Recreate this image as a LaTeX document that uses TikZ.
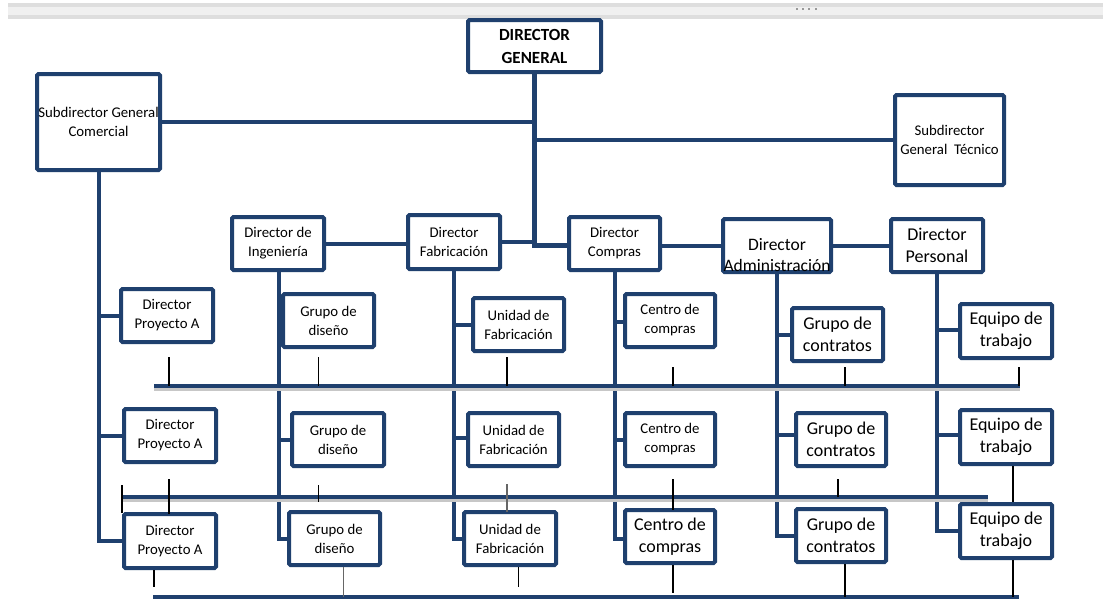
\documentclass[tikz,border=0pt]{standalone}
\usepackage{fontspec}
\setmainfont{Carlito}
\definecolor{navy}{RGB}{31,64,110}
\begin{document}
\begin{tikzpicture}[x=1pt,y=-1pt,
  box/.style={draw=navy, line width=4pt, fill=white, rounded corners=1.5pt, inner sep=0pt, align=center},
  sm/.style={font=\fontsize{14.8}{19}\selectfont},
  lg/.style={font=\fontsize{18}{21.7}\selectfont},
  bx/.style 2 args={minimum width=#1pt, minimum height=#2pt},
  conn/.style={draw=navy, line width=4pt},
  bus/.style={draw=navy, line width=4.5pt},
  busshadow/.style={draw=black!22, line width=3pt},
  tick/.style={draw=black, line width=1.2pt},
  gtick/.style={draw=black!60, line width=1.4pt}]
\useasboundingbox (0,0) rectangle (1103,600);
\fill[white] (0,0) rectangle (1103,600);
% top bar
\fill[black!13] (8,3.3) rectangle (1103,18.7);
\fill[black!6] (8,7.3) rectangle (1103,15);
\foreach \x in {796.7,802.7,809,815.7} \fill[black!40] (\x-1,8.3) rectangle (\x+1,10.3);

% top level
\node[box, bx={133}{52}, font=\bfseries\fontsize{17}{23}\selectfont] (DG) at (534.5,46) {DIRECTOR\\GENERAL};
\node[box, sm, bx={123}{96}] (SGC) at (98.5,122) {Subdirector General\\Comercial};
\node[box, sm, bx={109}{90}] (SGT) at (949.5,140) {Subdirector\\General\ \ Técnico};
% directors
\node[box, sm, bx={92}{53}] (DI) at (278,243.5) {Director de\\Ingeniería};
\node[box, sm, bx={92}{54}] (DF) at (454,242) {Director\\Fabricación};
\node[box, sm, bx={91}{53}] (DC) at (614.5,243.5) {Director\\Compras};
\node[box, bx={108}{53}] (DA) at (777,245.5) {};
\node[box, lg, bx={92}{53}] (DP) at (937,245.5) {Director\\Personal};
% row 1
\node[box, sm, bx={92}{53}] (DPA1) at (167,315.5) {Director\\Proyecto A};
\node[box, sm, bx={91}{53}] (GD1) at (328.5,320.5) {Grupo de\\diseño};
\node[box, sm, bx={91}{53}] (UF1) at (518.5,324.5) {Unidad de\\Fabricación};
\node[box, sm, bx={90}{53}] (CC1) at (670,320.5) {Centro de\\compras};
\node[box, lg, bx={91}{53}] (GC1) at (837.5,334.5) {Grupo de\\contratos};
\node[box, lg, bx={92}{54}] (ET1) at (1006,331) {Equipo de\\trabajo};
% row 2
\node[box, sm, bx={92}{53}] (DPA2) at (170,435.5) {Director\\Proyecto A};
\node[box, sm, bx={92}{53}] (GD2) at (338,439.5) {Grupo de\\diseño};
\node[box, sm, bx={91}{53}] (UF2) at (513.5,439.5) {Unidad de\\Fabricación};
\node[box, sm, bx={90}{53}] (CC2) at (670,439.5) {Centro de\\compras};
\node[box, lg, bx={90}{53}] (GC2) at (841,439.5) {Grupo de\\contratos};
\node[box, lg, bx={92}{54}] (ET2) at (1006,437) {Equipo de\\trabajo};
% row 3
\node[box, sm, bx={92}{54}] (DPA3) at (170,541) {Director\\Proyecto A};
\node[box, sm, bx={91}{53}] (GD3) at (334.5,538.5) {Grupo de\\diseño};
\node[box, sm, bx={92}{53}] (UF3) at (510,538.5) {Unidad de\\Fabricación};
\node[box, lg, bx={90}{53}] (CC3) at (670,536.5) {Centro de\\compras};
\node[box, lg, bx={90}{53}] (GC3) at (841,535.5) {Grupo de\\contratos};
\node[box, lg, bx={92}{54}] (ET3) at (1006,531) {Equipo de\\trabajo};

% top-level connectors
\draw[conn] (SGC.east) -- (SGC.east -| DG.south);
\draw[conn] (SGT.west) -- (SGT.west -| DG.south);
\draw[conn] (DI.east) -- (DI.east -| DF.west);
\draw[conn] (DF.east) -- (DF.east -| DG.south);
\draw[conn, line width=5pt] (DG.south) -- ([yshift=-2pt]DC.west -| DG.south) -- ([yshift=-2pt]DC.west);
\draw[conn] (DA.west) -- (DA.west -| DC.east);
\draw[conn] (DA.east) -- (DP.west);

% vertical lines and branches
\draw[conn] (SGC.south) |- (DPA3.west);
\draw[conn] (DPA1.west) -- (DPA1.west -| SGC.south);
\draw[conn] (DPA2.west) -- (DPA2.west -| SGC.south);
\draw[conn] ([xshift=1pt]DI.south) |- (GD3.west);
\draw[conn] (GD2.west) -- ([xshift=1pt]GD2.west -| DI.south);
\draw[conn] (DF.south) |- (UF3.west);
\draw[conn] (UF1.west) -- (UF1.west -| DF.south);
\draw[conn] ([yshift=2pt]UF2.west) -- ([yshift=2pt]UF2.west -| DF.south);
\draw[conn] (DC.south) |- ([yshift=-2pt]CC3.west);
\draw[conn] ([yshift=-1.5pt]CC1.west) -- ([yshift=-1.5pt]CC1.west -| DC.south);
\draw[conn] (CC2.west) -- (CC2.west -| DC.south);
\draw[conn] (DA.south) |- (GC3.west);
\draw[conn] (GC1.west) -- (GC1.west -| DA.south);
\draw[conn] ([yshift=4.5pt]GC2.west) -- ([yshift=4.5pt]GC2.west -| DA.south);
\draw[conn] (DP.south) |- (ET3.west);
\draw[conn] ([yshift=1pt]ET1.west) -- ([yshift=1pt]ET1.west -| DP.south);
\draw[conn] ([yshift=2pt]ET2.west) -- ([yshift=2pt]ET2.west -| DP.south);

% DA text (sits low in its box)
\node[lg, align=center, inner sep=0pt, font=\fontsize{17.5}{21}\selectfont] (DAt) at ([yshift=-10pt]DA.center) {Director\\Administración};

% buses
\coordinate (b1l) at (154,386); \coordinate (b1r) at (1020,386);
\coordinate (b2l) at (122,497); \coordinate (b2r) at (988,497);
\coordinate (b3l) at (153,597); \coordinate (b3r) at (1019,597);
\draw[busshadow] ([yshift=-3.5pt]b1l) -- ([yshift=-3.5pt]b1r);
\draw[busshadow] ([yshift=-3.5pt]b2l) -- ([yshift=-3.5pt]b2r);
\draw[bus] (b1l) -- (b1r);
\draw[bus] (b2l) -- (b2r);
\draw[bus] (b3l) -- (b3r);

% ticks row 1
\foreach \x/\y in {169/357, 318.7/357, 507/357, 673/367, 845/367, 1019/367}
  \draw[tick] (\x,\y) -- (\x,386);
% ticks row 2
\draw[tick] (122,485) -- (122,513);
\draw[tick] (169,479) -- (169,514);
\draw[tick] (318.7,485) -- (318.7,502);
\draw[gtick] (507,484) -- (507,512);
\draw[tick] (673,479) -- (673,510);
\draw[tick] (838,479) -- (838,497);
\draw[tick] ([xshift=7pt]ET2.south) -- ([xshift=7pt]ET3.north);
% ticks to bottom bus
\draw[tick] (154,570) -- (154,587);
\draw[gtick] ([xshift=9pt]GD3.south) -- ([xshift=9pt]GD3.south |- b3l);
\draw[tick] (518.7,567) -- (518.7,587);
\draw[tick] ([xshift=3pt]CC3.south) -- (673,593);
\draw[tick] ([xshift=4pt]GC3.south) -- ([xshift=4pt]GC3.south |- b3l);
\draw[tick] ([xshift=7pt]ET3.south) -- ([xshift=7pt]ET3.south |- b3l);
\end{tikzpicture}
\end{document}
